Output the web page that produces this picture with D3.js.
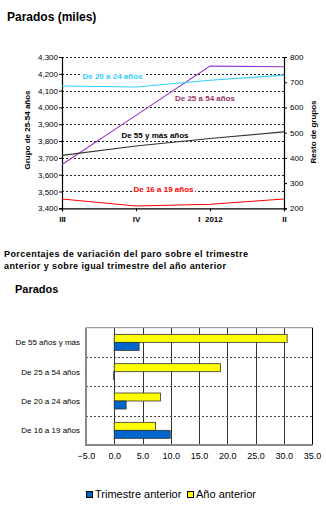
<!DOCTYPE html>
<html><head><meta charset="utf-8">
<script src="https://cdn.jsdelivr.net/npm/d3@7"></script>
<style>
body{margin:0;background:#fff}
svg{display:block}
text{font-family:Arial,"Liberation Sans",sans-serif}
</style>
</head><body>
<svg id="c" width="326" height="506"></svg>
<script>
// ---- Line chart data ----
const lineCategories = ["III", "IV", "I  2012", "II"];
const leftTicks = [3400, 3500, 3600, 3700, 3800, 3900, 4000, 4100, 4200, 4300];
const rightTicks = [200, 300, 400, 500, 600, 700, 800];
const grupo2554 = [3661, 3953, 4246, 4242];
const grupo2024 = [685, 681, 708, 728];
const grupo55 = [410, 447, 477, 503];
const grupo1619 = [237, 209, 216, 237];

// ---- Bar chart data ----
const barCategories = ["De 55 años y más", "De 25 a 54 años", "De 20 a 24 años", "De 16 a 19 años"];
const trimestreAnterior = [4.4, -0.1, 2.1, 9.9];
const anoAnterior = [30.6, 18.8, 8.2, 7.3];
const barTicks = [-5, 0, 5, 10, 15, 20, 25, 30, 35];

const svg = d3.select("#c");
svg.append("rect").attr("width", 326).attr("height", 506).attr("fill", "#fff");

// ================= LINE CHART =================
svg.append("text").attr("x", 7).attr("y", 21).attr("font-size", 12).attr("font-weight", "bold").text("Parados (miles)");

const L = {left: 62, right: 284, top: 57, bottom: 208.3};
const x = d3.scalePoint().domain(lineCategories).range([L.left, L.right]);
const yL = d3.scaleLinear().domain([3400, 4300]).range([L.bottom, L.top]);
const yR = d3.scaleLinear().domain([200, 800]).range([L.bottom, L.top]);

const g1 = svg.append("g");
// gridlines
g1.selectAll("line.grid").data(leftTicks.filter(d => d > 3400)).join("line")
  .attr("x1", L.left).attr("x2", L.right)
  .attr("y1", d => Math.round(yL(d)) + 0.5).attr("y2", d => Math.round(yL(d)) + 0.5)
  .attr("stroke", "#222").attr("stroke-dasharray", "2,2").attr("stroke-width", 1);

// axes
const axL = g1.append("g").attr("transform", `translate(${L.left},0)`)
  .call(d3.axisLeft(yL).tickValues(leftTicks).tickFormat(d3.format(",")).tickSize(3).tickPadding(1));
const axR = g1.append("g").attr("transform", `translate(${L.right},0)`)
  .call(d3.axisRight(yR).tickValues(rightTicks).tickSize(3).tickPadding(3));
const axB = g1.append("g").attr("transform", `translate(0,${L.bottom})`)
  .call(d3.axisBottom(x).tickSize(3).tickPadding(5));
[axL, axR, axB].forEach(a => {
  a.select(".domain").attr("stroke", "#000").attr("stroke-width", 1.2);
  a.selectAll(".tick line").attr("stroke", "#000");
  a.selectAll("text").attr("font-family", "Arial, 'Liberation Sans', sans-serif").attr("font-size", 8).attr("fill", "#000");
});
axB.selectAll("text").attr("font-weight", "bold").style("white-space", "pre");

// axis titles
svg.append("text").attr("transform", "translate(30,130) rotate(-90)").attr("text-anchor", "middle")
  .attr("font-size", 8).attr("font-weight", "bold").text("Grupo de 25-54 años");
svg.append("text").attr("transform", "translate(316,132) rotate(-90)").attr("text-anchor", "middle")
  .attr("font-size", 8).attr("font-weight", "bold").text("Resto de grupos");

// lines
const lineL = d3.line().x((d, i) => x(lineCategories[i])).y(d => yL(d));
const lineR = d3.line().x((d, i) => x(lineCategories[i])).y(d => yR(d));
const series = [
  {data: grupo2554, gen: lineL, color: "#9933cc"},
  {data: grupo2024, gen: lineR, color: "#33ccff"},
  {data: grupo55, gen: lineR, color: "#333333"},
  {data: grupo1619, gen: lineR, color: "#ff0000"}
];
series.forEach(s => {
  g1.append("path").attr("d", s.gen(s.data)).attr("fill", "none").attr("stroke", s.color).attr("stroke-width", 1.1);
});

// series labels
const labels = [
  {t: "De 20 a 24 años", x: 112.5, y: 79, c: "#33ccff", bg: true},
  {t: "De 25 a 54 años", x: 205, y: 101, c: "#993366", bg: false},
  {t: "De 55 y más años", x: 155, y: 138, c: "#000000", bg: false},
  {t: "De 16 a 19 años", x: 163.5, y: 191.5, c: "#ff0000", bg: true}
];
labels.forEach(l => {
  const t = g1.append("text").attr("x", l.x).attr("y", l.y).attr("text-anchor", "middle")
    .attr("font-size", 8).attr("font-weight", "bold").attr("fill", l.c).text(l.t);
  if (l.bg) {
    const b = t.node().getBBox();
    g1.insert("rect", () => t.node()).attr("x", b.x - 1).attr("y", b.y).attr("width", b.width + 2).attr("height", b.height).attr("fill", "#fff");
  }
});

// ================= SUBTITLES =================
svg.append("text").attr("x", 4).attr("y", 257).attr("font-size", 9).attr("font-weight", "bold")
  .attr("textLength", 244).attr("lengthAdjust", "spacing")
  .text("Porcentajes de variación del paro sobre el trimestre");
svg.append("text").attr("x", 4).attr("y", 269).attr("font-size", 9).attr("font-weight", "bold")
  .attr("textLength", 222).attr("lengthAdjust", "spacing")
  .text("anterior y sobre igual trimestre del año anterior");
svg.append("text").attr("x", 15).attr("y", 293).attr("font-size", 11).attr("font-weight", "bold").text("Parados");

// ================= BAR CHART =================
const B = {left: 86, right: 312, top: 327.7, bottom: 445};
const xb = d3.scaleLinear().domain([-5, 35]).range([B.left, B.right]);
const yb = d3.scaleBand().domain(barCategories).range([B.top, B.bottom]);
const g2 = svg.append("g");

// vertical gridlines
g2.selectAll("line.vg").data(barTicks.filter(d => d > -5)).join("line")
  .attr("x1", d => Math.round(xb(d)) + 0.5).attr("x2", d => Math.round(xb(d)) + 0.5)
  .attr("y1", B.top).attr("y2", B.bottom)
  .attr("stroke", d => d === 35 ? "#000" : "#333").attr("stroke-width", 1);
// horizontal dashed separators
g2.selectAll("line.hs").data(barCategories.slice(1)).join("line")
  .attr("x1", B.left).attr("x2", B.right)
  .attr("y1", d => Math.round(yb(d)) + 0.5).attr("y2", d => Math.round(yb(d)) + 0.5)
  .attr("stroke", "#444").attr("stroke-dasharray", "2,2");
// frame
g2.append("line").attr("x1", B.left).attr("x2", B.right).attr("y1", B.top).attr("y2", B.top).attr("stroke", "#888").attr("stroke-width", 1);
g2.append("line").attr("x1", B.left).attr("x2", B.left).attr("y1", B.top).attr("y2", B.bottom + 1).attr("stroke", "#888").attr("stroke-width", 2);
g2.append("line").attr("x1", B.left).attr("x2", B.right + 0.5).attr("y1", B.bottom).attr("y2", B.bottom).attr("stroke", "#888").attr("stroke-width", 2);

const bh = 8;
barCategories.forEach((c, i) => {
  const cy = yb(c) + yb.bandwidth() / 2;
  const a = anoAnterior[i], t = trimestreAnterior[i];
  g2.append("rect").attr("x", xb(Math.min(0, a))).attr("y", cy - bh).attr("width", Math.abs(xb(a) - xb(0))).attr("height", bh)
    .attr("fill", "#ffff00").attr("stroke", "#333").attr("stroke-width", 0.8);
  g2.append("rect").attr("x", xb(Math.min(0, t))).attr("y", cy).attr("width", Math.abs(xb(t) - xb(0))).attr("height", bh)
    .attr("fill", "#0066cc").attr("stroke", "#333").attr("stroke-width", 0.8);
  g2.append("text").attr("x", 80).attr("y", cy + 3).attr("text-anchor", "end").attr("font-size", 8).attr("fill", "#000").text(c);
});

const axBar = g2.append("g").attr("transform", `translate(0,${B.bottom})`)
  .call(d3.axisBottom(xb).tickValues(barTicks).tickFormat(d3.format(".1f")).tickSize(0).tickPadding(8));
axBar.select(".domain").remove();
axBar.selectAll("text").attr("font-family", "Arial, 'Liberation Sans', sans-serif").attr("font-size", 9).attr("fill", "#000");

// legend
const legend = [
  {t: "Trimestre anterior", c: "#0066cc", x: 86},
  {t: "Año anterior", c: "#ffff00", x: 187}
];
legend.forEach(l => {
  svg.append("rect").attr("x", l.x + 0.5).attr("y", 491.5).attr("width", 6).attr("height", 6).attr("fill", l.c).attr("stroke", "#000").attr("stroke-width", 1);
  svg.append("text").attr("x", l.x + 9).attr("y", 498).attr("font-size", 11).attr("fill", "#000").text(l.t);
});
</script>
</body></html>
